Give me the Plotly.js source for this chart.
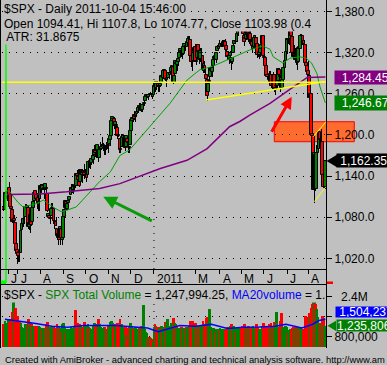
<!DOCTYPE html>
<html><head><meta charset="utf-8">
<script src="https://cdn.plot.ly/plotly-3.0.1.min.js"></script>
<style>html,body{margin:0;padding:0;background:#c0c0c0;}#chart{width:387px;height:365px;}</style>
</head><body><div id="chart"></div>
<script>
// ---- daily $SPX bars, 2010-06-14 .. 2011-08-23 (bar index 0..302) ----
const openP = [1095,1091,1114,1115,1116,1122,1113,1095,1090,1074,1077,1071,1041,
1032,1028,1029,1028,1062,1070,1077,1080,1095,1094,1094,1066,1068,1084,1073,1093,1103,1118,1113,1108,1098,
1107,1125,1121,1125,1122,1122,1122,1114,1081,1082,1077,1082,1093,1092,1075,1073,1063,1049,1057,1049,1063,1047,
1050,1080,1093,1102,1092,1101,1105,1113,1121,1120,1124,1127,1126,1143,1139,1131,1132,1149,1142,1147,1146,
1144,1144,1141,1160,1162,1159,1165,1164,1171,1177,1178,1177,1178,1167,1179,1180,1184,1184,1183,1184,1183,
1186,1187,1193,1198,1221,1224,1224,1214,1213,1210,1200,1194,1178,1183,1196,1198,1192,1183,1194,1189,1182,
1186,1206,1220,1224,1229,1226,1231,1233,1242,1241,1241,1236,1244,1245,1249,1255,1258,1255,1259,1259,1260,1256,
1258,1273,1269,1276,1275,1270,1272,1276,1286,1283,1293,1294,1280,1283,1283,1288,1292,1297,1299,1276,
1289,1305,1302,1307,1312,1319,1322,1318,1318,1329,1330,1329,1334,1341,1339,1315,1307,1308,1321,
1329,1306,1313,1331,1323,1311,1320,1315,1293,1301,1288,1280,1262,1277,1285,1298,1292,1300,1311,1315,1309,1322,1328,
1329,1333,1332,1335,1334,1336,1330,1321,1315,1311,1315,1313,1306,1319,1333,1337,1336,1348,1354,1360,
1365,1359,1356,1344,1341,1340,1348,1354,1339,1348,1335,1326,1329,1342,1342,1333,1317,1316,1320,1325,1332,
1345,1314,1313,1300,1287,1284,1280,1288,1272,1273,1287,1266,1271,1271,1279,1295,1286,1283,1268,1280,1297,1308,
1321,1339,1337,1340,1352,1343,1319,1314,1318,1309,1315,1307,1328,1326,1344,1344,1337,1331,1305,1300,
1293,1286,1254,1260,1201,1199,1121,1171,1121,1173,1179,1204,1193,1190,1141,1124,1124];
const highP = [1105,1115,1118,1118,1121,1131,1119,1099,1090,1083,1083,1071,1049,
1034,1032,1042,1060,1071,1078,1081,1099,1099,1098,1095,1074,1084,1084,1097,1103,1115,1120,1116,1115,1106,
1128,1126,1129,1126,1122,1129,1127,1114,1086,1086,1082,1101,1100,1092,1075,1081,1063,1059,1061,1065,1064,1056,
1082,1090,1105,1102,1103,1110,1110,1124,1128,1126,1126,1132,1144,1149,1144,1136,1149,1150,1150,1149,1158,
1150,1148,1162,1163,1163,1168,1172,1173,1185,1180,1182,1186,1178,1183,1189,1184,1197,1188,1184,1190,1186,
1196,1196,1198,1221,1227,1226,1226,1219,1216,1213,1208,1194,1183,1200,1200,1198,1192,1199,1194,1189,1183,
1208,1222,1226,1225,1235,1229,1234,1241,1247,1247,1245,1244,1245,1250,1255,1260,1259,1259,1260,1263,1260,1260,
1277,1275,1277,1278,1277,1272,1278,1286,1287,1293,1296,1294,1280,1291,1291,1291,1299,1301,1302,1288,
1308,1307,1308,1311,1322,1325,1324,1322,1331,1333,1331,1337,1341,1344,1339,1318,1311,1321,1329,
1333,1315,1332,1331,1327,1327,1327,1315,1308,1301,1288,1281,1277,1288,1299,1299,1300,1311,1319,1319,1319,1331,1329,
1338,1336,1339,1339,1338,1340,1334,1322,1322,1317,1322,1313,1313,1333,1338,1337,1349,1358,1362,1364,
1371,1360,1357,1348,1355,1349,1360,1354,1351,1351,1343,1331,1341,1346,1342,1333,1323,1326,1328,1334,1346,
1345,1318,1313,1302,1296,1288,1293,1288,1281,1292,1287,1275,1280,1281,1298,1298,1286,1284,1284,1297,1310,1321,
1342,1341,1340,1357,1352,1343,1327,1331,1327,1317,1315,1327,1330,1347,1347,1344,1338,1331,1316,1304,
1308,1287,1261,1260,1214,1199,1173,1171,1186,1190,1205,1204,1208,1190,1155,1146,1162];
const lowP = [1089,1091,1107,1104,1113,1108,1095,1085,1071,1067,1071,1035,1030,
1011,1015,1015,1028,1057,1066,1070,1080,1087,1081,1063,1061,1057,1067,1073,1087,1101,1109,1104,1092,1089,
1107,1116,1119,1119,1107,1120,1111,1088,1080,1079,1070,1082,1086,1070,1063,1067,1046,1040,1046,1040,1048,1039,
1050,1080,1093,1091,1091,1101,1102,1113,1116,1114,1118,1122,1126,1133,1131,1124,1132,1142,1130,1140,1136,
1140,1131,1141,1152,1151,1156,1162,1158,1171,1168,1167,1175,1160,1167,1171,1178,1184,1177,1171,1178,1180,
1174,1187,1184,1198,1220,1219,1208,1205,1205,1194,1197,1173,1174,1183,1191,1184,1176,1183,1186,1174,1174,
1186,1206,1216,1219,1222,1219,1226,1232,1240,1238,1233,1233,1240,1242,1249,1254,1254,1251,1257,1259,1255,1253,
1258,1262,1265,1270,1262,1263,1270,1276,1280,1281,1290,1278,1270,1282,1283,1282,1291,1295,1275,1276,
1289,1302,1294,1301,1312,1318,1314,1311,1317,1328,1323,1328,1332,1338,1312,1299,1294,1308,1320,
1306,1302,1313,1313,1303,1306,1315,1294,1291,1289,1261,1250,1262,1276,1285,1292,1285,1297,1310,1310,1305,1322,1325,
1329,1329,1328,1330,1326,1322,1321,1309,1309,1303,1313,1295,1303,1319,1332,1333,1336,1344,1353,1358,
1360,1349,1341,1330,1336,1338,1348,1336,1332,1336,1329,1319,1326,1337,1330,1312,1314,1311,1314,1325,1332,
1314,1305,1297,1286,1284,1277,1280,1268,1268,1273,1262,1258,1267,1267,1279,1286,1262,1267,1267,1280,1297,1308,
1318,1333,1331,1340,1334,1318,1313,1314,1306,1302,1295,1307,1323,1325,1338,1331,1329,1303,1298,1282,
1275,1254,1235,1200,1168,1119,1101,1118,1121,1170,1179,1181,1184,1132,1122,1121,1121];
const closeP = [1090,1115,1114,1116,1117,1113,1095,1092,1073,1076,1074,1041,1031,
1027,1023,1028,1060,1070,1078,1078,1095,1095,1096,1065,1071,1083,1069,1093,1102,1115,1113,1106,1101,1102,
1126,1120,1127,1126,1122,1128,1121,1089,1084,1079,1079,1092,1094,1075,1072,1067,1052,1055,1047,1065,1049,1049,
1080,1090,1104,1092,1099,1104,1110,1122,1121,1125,1125,1126,1143,1140,1134,1125,1149,1142,1148,1145,1141,
1146,1137,1161,1160,1158,1165,1165,1170,1178,1174,1176,1185,1166,1178,1180,1183,1186,1186,1182,1184,1183,
1184,1194,1198,1221,1226,1223,1213,1219,1214,1199,1198,1178,1179,1197,1200,1198,1181,1198,1189,1188,1181,
1206,1222,1225,1223,1224,1228,1233,1240,1240,1242,1235,1243,1244,1247,1255,1259,1257,1258,1258,1260,1258,1258,
1272,1270,1277,1274,1272,1270,1275,1286,1284,1293,1295,1282,1280,1283,1291,1291,1297,1300,1276,1286,
1308,1304,1307,1311,1319,1325,1321,1322,1329,1332,1328,1336,1340,1343,1315,1307,1306,1320,1327,
1306,1308,1331,1321,1310,1322,1320,1295,1304,1296,1282,1257,1274,1279,1298,1294,1298,1310,1314,1310,1319,1328,1326,
1332,1333,1333,1336,1334,1328,1324,1314,1314,1315,1320,1305,1313,1330,1337,1335,1347,1356,1360,1364,
1361,1357,1347,1335,1340,1346,1357,1342,1349,1338,1330,1329,1341,1344,1333,1317,1316,1321,1326,1331,1345,
1315,1313,1300,1286,1285,1280,1289,1271,1272,1288,1265,1268,1272,1278,1296,1287,1284,1268,1280,1297,1308,1321,
1340,1338,1339,1353,1344,1320,1314,1318,1309,1316,1305,1327,1326,1344,1345,1337,1332,1305,1301,1292,
1287,1254,1260,1200,1199,1120,1173,1121,1173,1179,1205,1193,1194,1141,1124,1124,1162];
// total volume, thousands
const volumeK = [1300,1450,1250,1350,1500,1400,1350,1500,1800,2250,1850,1950,1600,1650,1400,
1400,1350,1200,1150,1100,1300,1250,1250,1500,1200,1350,1300,1250,1200,1150,1250,1200,1250,1250,1200,
1100,1150,1050,1150,1100,1300,1400,1200,1100,1150,1200,1100,1250,1150,1100,1300,1250,1150,1150,1000,
1300,1350,1150,1000,950,1100,1050,1100,1200,1150,1150,1250,1880,1200,1350,1250,1300,1250,1150,1200,
1150,1400,1250,1150,1300,1200,1150,1100,1050,1250,1350,1200,1250,1300,1500,1300,1200,1100,1150,1200,
1200,1100,1050,1250,1200,1400,1450,1350,1150,1300,1250,1100,1350,1200,1500,1250,1300,1200,1100,1250,
850,650,1150,1250,1350,1250,1150,1050,1150,1200,1100,1100,1150,1200,1250,1200,2080,1100,1000,950,
700,650,800,750,700,600,1200,1300,1250,1200,1200,1150,1150,1250,1150,1200,1200,1400,1350,1500,
1200,1250,1350,1300,1550,1350,1300,1250,1150,1100,1100,1150,1200,1150,1150,1100,1200,1200,1150,1250,
1450,1400,1450,1200,1150,1350,1200,1250,1150,1250,1250,1100,1450,1300,1250,1550,1600,1400,1920,1200,
1050,1100,1150,1100,1000,1050,1100,1050,1150,1050,1100,1050,1100,1050,1050,1200,1100,1150,1250,1300,
1150,1250,1150,1000,1150,1200,1150,1150,1200,1250,1250,1300,1200,1150,1150,1250,1200,1150,1200,1250,
1150,1100,1300,1200,1100,1050,1100,1000,1250,1350,1200,1250,1200,1250,1300,1200,1350,1200,1250,1400,
1250,1800,1200,1150,1200,1450,1750,1200,1150,1250,1250,1200,950,1050,1100,1050,1150,1200,1100,1200,
1150,1200,1150,1050,1200,1100,1100,1100,1650,1400,1500,1600,1750,1600,1950,2100,2250,2250,2100,1900,
1600,1300,1350,1350,1650,1550,1250,1236];
// moving averages (bar index, value)
const ma50Idx = [2,6,7,13,18,25,31,37,43,48,54,59,68,81,90,100,109,118,140,156,172,184,196,210,222,231,243,250,253,262,269,278,284,289,294,297,302];
const ma50Val = [1119,1117,1114,1102,1095,1098,1100,1105,1098,1093,1088,1090,1095,1117,1132,1146,1170,1178,1217,1246,1280,1295,1300,1310,1318,1324,1330,1325,1314,1305,1312,1314,1312,1305,1290,1270,1246.67];
const ma200Idx = [2,34,59,90,109,121,140,147,172,191,212,222,231,250,269,285,302];
const ma200Val = [1113,1114,1117,1122,1129,1136,1146,1151,1163,1180,1212,1220,1229,1246,1267,1284,1284.45];
const volMaIdx = [1,10,20,30,45,60,75,90,105,120,135,145,155,165,180,195,210,225,240,255,265,280,290,296,302];
const volMaVal = [1500,1450,1400,1330,1220,1180,1250,1240,1250,1200,1150,1000,1120,1250,1220,1300,1130,1180,1190,1220,1300,1150,1300,1450,1504.237];
// axis ticks
const monthTickIdx = [4,13,34,56,77,98,119,141,180,203,223,244,266,286];
const monthLabels = ['J','J','A','S','O','N','D','2011','M','A','M','J','J','A'];
const priceTicks = [1020,1080,1140,1200,1260,1320,1380];
const volTicksK = [800,1600,2400];
const volTickLabels = ['800,000','','\u00a0\u00a02.4M'];
// hand-drawn studies
const hLevel = 1276.8;
const trendIdx = [190,302.6], trendVal = [1251,1278];
const chanLoIdx = [291.6,302.6], chanLoVal = [1102.6,1124.5];
const chanHiIdx = [290.7,302.6], chanHiVal = [1197.5,1219.3];
const zoneVal = [1190.1,1219.3];
const redArrow = {fromIdx:250.7, fromVal:1202.4, toIdx:270.4, toVal:1255.8};
const greenArrow = {fromIdx:140.4, fromVal:1073.4, toIdx:93.4, toVal:1109.9};
const markerIdx = 2;
const yearIdx = 141;
const lastVolK = 1235.806;

const W=387,H=365;
const UP='#008000', DN='#ff0000';
const n = closeP.length;
const idx = closeP.map((_,i)=>i);

// candles as one bar trace: wick then body per bar, so later bars overdraw earlier ones
const cx=[],cb=[],cy=[],cw=[],cc=[],clw=[];
for(let i=0;i<n;i++){
  cx.push(i); cb.push(lowP[i]); cy.push(highP[i]-lowP[i]); cw.push(0.05); cc.push('#000'); clw.push(0);
  const lo=Math.min(openP[i],closeP[i]), hi=Math.max(openP[i],closeP[i]);
  cx.push(i); cb.push(lo); cy.push(Math.max(hi-lo,0.01)); cw.push(2.6); cc.push(closeP[i]>=openP[i]?UP:DN); clw.push(1);
}
const volColors = idx.map(i=>closeP[i]>=openP[i]?UP:DN);

const traces = [
 {type:'bar', x:cx, y:cy, base:cb, width:cw, marker:{color:cc, line:{color:'#000', width:clw}}, xaxis:'x', yaxis:'y', hoverinfo:'skip'},
 {type:'scatter', mode:'lines', x:ma50Idx, y:ma50Val, line:{color:'#00a000', width:1}, xaxis:'x', yaxis:'y', hoverinfo:'skip'},
 {type:'scatter', mode:'lines', x:ma200Idx, y:ma200Val, line:{color:'#800080', width:1.5}, xaxis:'x', yaxis:'y', hoverinfo:'skip'},
 {type:'bar', x:idx, y:volumeK, width:2.6, marker:{color:volColors, line:{width:0}}, xaxis:'x2', yaxis:'y2', hoverinfo:'skip'},
 {type:'scatter', mode:'lines', x:volMaIdx, y:volMaVal, line:{color:'#0000ff', width:1.5}, xaxis:'x2', yaxis:'y2', hoverinfo:'skip'}
];

const px = v=>v/W, py = v=>1-v/H;
const xr=[-1.75,302.6];
const fmtP = v=>v.toLocaleString('en-US',{minimumFractionDigits:1,maximumFractionDigits:1});
const FONT='Liberation Sans, Arial, sans-serif';
const dots='1px,6px';

const shapes = [
 {type:'line', xref:'x', yref:'y', x0:xr[0], x1:xr[1], y0:hLevel, y1:hLevel, line:{color:'#ffff00', width:1.5}},
 {type:'line', xref:'x', yref:'y', x0:trendIdx[0], x1:trendIdx[1], y0:trendVal[0], y1:trendVal[1], line:{color:'#ffff00', width:1.5}},
 {type:'line', xref:'x', yref:'y', x0:chanLoIdx[0], x1:chanLoIdx[1], y0:chanLoVal[0], y1:chanLoVal[1], line:{color:'#ffff00', width:1}},
 {type:'line', xref:'x', yref:'y', x0:chanHiIdx[0], x1:chanHiIdx[1], y0:chanHiVal[0], y1:chanHiVal[1], line:{color:'#ffff00', width:1}},
 {type:'rect', layer:'between', xref:'paper', yref:'y', x0:px(274.3), x1:px(354.3), y0:zoneVal[0], y1:zoneVal[1], fillcolor:'#ff6c30', line:{color:'#ff0000', width:1}},
 {type:'line', layer:'below', xref:'x', yref:'paper', x0:yearIdx, x1:yearIdx, y0:py(269), y1:1, line:{color:'#000', width:1, dash:dots}},
 {type:'line', layer:'below', xref:'x', yref:'paper', x0:yearIdx, x1:yearIdx, y0:py(347), y1:py(285), line:{color:'#000', width:1, dash:dots}},
 {type:'line', xref:'x', yref:'paper', x0:markerIdx, x1:markerIdx, y0:py(283), y1:py(43), line:{color:'#00ff00', width:1.5}},
 {type:'rect', xref:'paper', yref:'paper', x0:0, x1:px(6), y0:py(284), y1:py(280.5), fillcolor:'#00ff00', line:{width:0}},
 {type:'rect', xref:'paper', yref:'paper', x0:px(327), x1:px(333), y0:py(284), y1:py(281.5), fillcolor:'#ff0000', line:{width:0}},
 {type:'line', xref:'paper', yref:'paper', x0:px(0.5), x1:px(0.5), y0:py(348), y1:1, line:{color:'#000', width:1}},
 {type:'line', xref:'paper', yref:'paper', x0:px(326.5), x1:px(326.5), y0:py(348), y1:1, line:{color:'#000', width:1}},
 {type:'line', xref:'paper', yref:'paper', x0:0, x1:px(326.5), y0:py(269.5), y1:py(269.5), line:{color:'#000', width:1}},
 {type:'line', xref:'paper', yref:'paper', x0:0, x1:px(326.5), y0:py(284.5), y1:py(284.5), line:{color:'#000', width:1}},
 {type:'path', xref:'paper', yref:'y', path:`M${px(326.5)},${closeP[n-1]} L${px(337)},${closeP[n-1]+9} L${px(337)},${closeP[n-1]-9} Z`, fillcolor:'#000', line:{width:0}},
 {type:'path', xref:'paper', yref:'y2', path:`M${px(327.5)},${lastVolK} L${px(336)},${lastVolK+210} L${px(336)},${lastVolK-210} Z`, fillcolor:'#008000', line:{width:0}}
];

const ann = (o)=>Object.assign({showarrow:false, xref:'paper', yref:'paper', xanchor:'left', yanchor:'top', font:{family:FONT,size:12,color:'#000'}, borderpad:0}, o);
const nb='\u00a0';
const annotations = [
 ann({x:px(3), y:py(0), height:15, valign:'middle', bgcolor:'#c0c0c0', text:'$SPX - Daily 2011-10-04 15:46:00'}),
 ann({x:px(3), y:py(15), height:15, valign:'middle', bgcolor:'#c0c0c0', text:'Open 1094.41, Hi 1107.8, Lo 1074.77, Close 1103.98 (0.4'}),
 ann({x:px(2), y:py(29), height:14, valign:'middle', bgcolor:'#c0c0c0', text:nb+'ATR: 31.8675'}),
 ann({x:px(3), y:py(287), height:14, valign:'middle', bgcolor:'#c0c0c0', text:'$SPX - <span style="color:#008000">SPX Total Volume</span> = 1,247,994.25, <span style="color:#0000ff">MA20volume</span> = 1.'}),
 ann({x:px(4), y:py(352), height:13, valign:'middle', font:{family:FONT,size:9.4,color:'#000'}, text:'Created with AmiBroker - advanced charting and technical analysis software. http://www.am'}),
 ...monthTickIdx.map((t,k)=>ann({xref:'x', x:t, xshift:2, y:py(270.5), height:13, valign:'middle', text:monthLabels[k]})),
 ann({x:px(334), yref:'y', y:ma200Val[ma200Val.length-1], yanchor:'middle', width:56, height:13, align:'left', bgcolor:'#800080', font:{family:FONT,size:12,color:'#fff'}, text:nb+nb+'1,284.45'}),
 ann({x:px(334), yref:'y', y:ma50Val[ma50Val.length-1], yanchor:'middle', width:56, height:14, align:'left', bgcolor:'#008000', font:{family:FONT,size:12,color:'#fff'}, text:nb+nb+'1,246.67'}),
 ann({x:px(336), yref:'y', y:closeP[n-1], yanchor:'middle', width:54, height:13, align:'left', bgcolor:'#000', font:{family:FONT,size:12,color:'#fff'}, text:nb+'1,162.35'}),
 ann({x:px(335), yref:'y2', y:volMaVal[volMaVal.length-1], yshift:7, yanchor:'middle', width:55, height:10, align:'left', bgcolor:'#0000ff', font:{family:FONT,size:12,color:'#fff'}, text:nb+'1,504,237'}),
 ann({x:px(336), yref:'y2', y:lastVolK, yanchor:'middle', width:54, height:11, align:'left', bgcolor:'#008000', font:{family:FONT,size:12,color:'#fff'}, text:'1,235,806'}),
 {xref:'x', yref:'y', axref:'x', ayref:'y', x:redArrow.toIdx, y:redArrow.toVal, ax:redArrow.fromIdx, ay:redArrow.fromVal, text:'', showarrow:true, arrowcolor:'#ff0000', arrowwidth:3, arrowhead:2, arrowsize:0.8, standoff:0, startstandoff:0},
 {xref:'x', yref:'y', axref:'x', ayref:'y', x:greenArrow.toIdx, y:greenArrow.toVal, ax:greenArrow.fromIdx, ay:greenArrow.fromVal, text:'', showarrow:true, arrowcolor:'#0a9a0a', arrowwidth:3, arrowhead:2, arrowsize:0.9, standoff:0, startstandoff:0}
];

const layout = {
 width:W, height:H, margin:{l:0,r:0,t:0,b:0},
 paper_bgcolor:'#c0c0c0', plot_bgcolor:'#c0c0c0',
 showlegend:false, barmode:'overlay', bargap:0, hovermode:false,
 font:{family:FONT, size:12, color:'#000'},
 xaxis:{domain:[px(2),px(326)], range:xr, anchor:'y', tickmode:'array', tickvals:monthTickIdx, ticktext:monthTickIdx.map(()=>''),
   ticks:'outside', ticklen:4, tickcolor:'#000', tickwidth:1, showgrid:false, zeroline:false, showline:false},
 yaxis:{domain:[py(269),1], range:[1004.4,1396.9], side:'right', anchor:'x', tickmode:'array', tickvals:priceTicks, ticktext:priceTicks.map(fmtP),
   ticks:'outside', ticklen:5, tickcolor:'#000', showgrid:true, gridcolor:'#000', gridwidth:1, griddash:dots, zeroline:false, showline:false,
   tickfont:{family:FONT,size:12,color:'#000'}},
 xaxis2:{domain:[px(2),px(326)], range:xr, anchor:'y2', showticklabels:false, ticks:'', showgrid:false, zeroline:false, showline:false},
 yaxis2:{domain:[py(347),py(285)], range:[385,2880], side:'right', anchor:'x2', tickmode:'array', tickvals:volTicksK, ticktext:volTickLabels,
   ticks:'outside', ticklen:5, tickcolor:'#000', showgrid:true, gridcolor:'#000', gridwidth:1, griddash:dots, zeroline:false, showline:false,
   tickfont:{family:FONT,size:12,color:'#000'}},
 shapes:shapes, annotations:annotations
};
Plotly.newPlot('chart', traces, layout, {displayModeBar:false, responsive:false});
</script></body></html>
